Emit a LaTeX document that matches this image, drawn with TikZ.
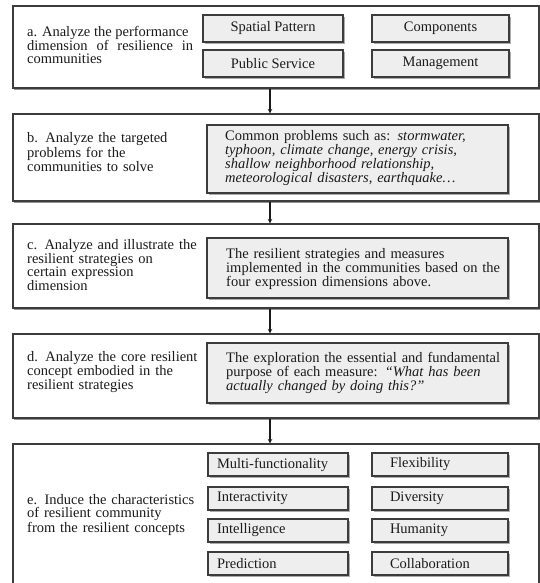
\documentclass[tikz,border=0pt]{standalone}
\usepackage{fontspec}
\setmainfont{Liberation Serif}
\usetikzlibrary{arrows.meta,shadows}
\definecolor{boxfill}{HTML}{EEEEEE}
\definecolor{edge}{HTML}{3C3C3C}
\definecolor{ink}{HTML}{1A1A1A}
\begin{document}
\begin{tikzpicture}[x=1pt,y=-1pt,
  every node/.style={text=ink},
  outerbox/.style={draw=edge, line width=1.1pt, fill=white, inner sep=0pt, minimum width=526pt,
    drop shadow={shadow xshift=0.8pt, shadow yshift=-1.6pt, fill=black!60, opacity=0.7}},
  innerbox/.style={draw=edge, line width=1.3pt, fill=boxfill, inner sep=0pt,
    drop shadow={shadow xshift=1.6pt, shadow yshift=-1.6pt, fill=black!55, opacity=0.6}},
  tagbox/.style={innerbox, minimum height=27pt, font=\fontsize{14.5pt}{14pt}\selectfont},
  charbox/.style={innerbox, minimum height=23pt, text width=#1, align=left, font=\fontsize{14.5pt}{14pt}\selectfont},
  lab/.style={anchor=west, inner sep=0pt, align=left, text width=190pt, font=\fontsize{14.5pt}{13pt}\selectfont},
  bodytext/.style={anchor=west, inner sep=0pt, align=left, text width=285pt, font=\fontsize{14.5pt}{#1}\selectfont},
  arr/.style={draw=ink, line width=1.1pt, -{Stealth[length=4.5pt,width=4.5pt]}}
]
\useasboundingbox (0,0) rectangle (540,583);
\clip (0,0) rectangle (540,583);
\fill[white] (0,0) rectangle (540,583);

% outer boxes
\node[outerbox, minimum height=82pt] (boxA) at (276,47) {};
\node[outerbox, minimum height=87pt] (boxB) at (276,157.5) {};
\node[outerbox, minimum height=84pt] (boxC) at (276,266) {};
\node[outerbox, minimum height=84pt] (boxD) at (276,376) {};
\node[outerbox, minimum height=160pt] (boxE) at (276,524) {};

% connectors
\coordinate (ax) at (270,0);
\draw[arr] (boxA.south -| ax) -- (boxB.north -| ax);
\draw[arr] (boxB.south -| ax) -- (boxC.north -| ax);
\draw[arr] (boxC.south -| ax) -- (boxD.north -| ax);
\draw[arr] (boxD.south -| ax) -- (boxE.north -| ax);

% row a
\node[lab, text width=166pt, align=justify] (labA) at (27,45)
  {a. Analyze the performance\\ dimension\hfill of\hfill resilience\hfill in\\ communities};
\node[tagbox, minimum width=140pt] (sp) at (273,28.5) {Spatial Pattern};
\node[tagbox, minimum width=137pt] (comp) at (440.5,28.5) {Components};
\node[tagbox, minimum width=140pt] (ps) at (273,63.5) {Public Service};
\node[tagbox, minimum width=137pt] (mgmt) at (440.5,63.5) {Management};

% row b
\node[lab] (labB) at (27,152) {b. Analyze the targeted\\ problems for the\\ communities to solve};
\node[innerbox, minimum width=301pt, minimum height=68pt] (probs) at (357.5,159) {};
\node[bodytext=11.8pt] (probsT) at (225,158)
  {Common problems such as: \textit{stormwater,}\\ \textit{typhoon, climate change, energy crisis,}\\
   \textit{shallow neighborhood relationship,}\\ \textit{meteorological disasters, earthquake\dots}};

% row c
\node[lab] (labC) at (27,265) {c. Analyze and illustrate the\\ resilient strategies on\\ certain expression\\ dimension};
\node[innerbox, minimum width=301pt, minimum height=60pt] (strat) at (357.5,268) {};
\node[bodytext=12.5pt] (stratT) at (226,269)
  {The resilient strategies and measures\\ implemented in the communities based on the\\ four expression dimensions above.};

% row d
\node[lab] (labD) at (27,372) {d. Analyze the core resilient\\ concept embodied in the\\ resilient strategies};
\node[innerbox, minimum width=301pt, minimum height=60pt] (explo) at (357.5,373) {};
\node[bodytext=12.5pt] (exploT) at (226,373)
  {The exploration the essential and fundamental\\ purpose of each measure: \textit{``What has been}\\ \textit{actually changed by doing this?''}};

% row e
\node[lab] (labE) at (27,515) {e. Induce the characteristics\\ of resilient community\\ from the resilient concepts};
\node[charbox=122pt, minimum width=140pt] (mf) at (278,464.5) {Multi-functionality};
\node[charbox=122pt, minimum width=140pt] (inter) at (278,498.5) {Interactivity};
\node[charbox=122pt, minimum width=140pt] (intel) at (278,530.5) {Intelligence};
\node[charbox=122pt, minimum width=140pt] (pred) at (278,563.5) {Prediction};
\node[charbox=100pt, minimum width=136pt] (flex) at (440,464.5) {Flexibility};
\node[charbox=100pt, minimum width=136pt] (div) at (440,498.5) {Diversity};
\node[charbox=100pt, minimum width=136pt] (hum) at (440,530.5) {Humanity};
\node[charbox=100pt, minimum width=136pt] (collab) at (440,563.5) {Collaboration};
\end{tikzpicture}
\end{document}
